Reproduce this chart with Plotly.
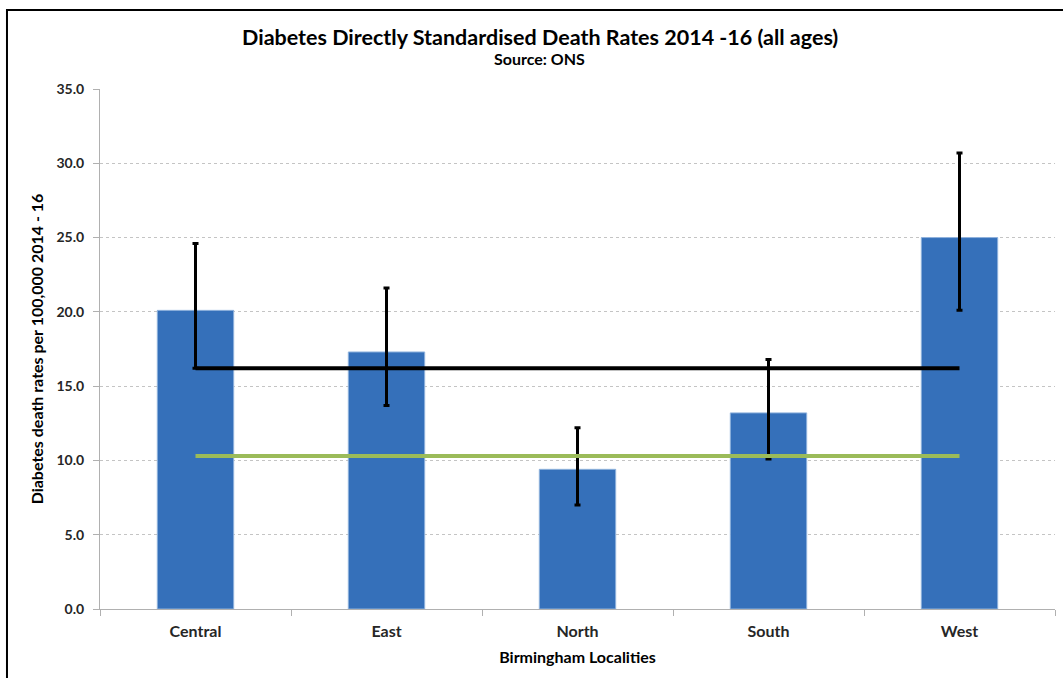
import plotly.graph_objects as go

localities = ["Central", "East", "North", "South", "West"]
death_rate = [20.1, 17.3, 9.4, 13.2, 25.0]
ci_upper = [24.6, 21.6, 12.2, 16.8, 30.7]
ci_lower = [16.2, 13.7, 7.0, 10.1, 20.1]
birmingham_rate = [16.2, 16.2, 16.2, 16.2, 16.2]
england_rate = [10.3, 10.3, 10.3, 10.3, 10.3]

FONT = "Lato"
TEXT = "#262626"
AXIS = "#b0b0b0"

err_plus = [u - v for u, v in zip(ci_upper, death_rate)]
err_minus = [v - l for v, l in zip(death_rate, ci_lower)]

fig = go.Figure()
fig.add_trace(go.Bar(
    x=localities,
    y=death_rate,
    width=0.4,
    marker=dict(color="#3570ba", line=dict(color="#8fb2dd", width=1)),
    error_y=dict(type="data", symmetric=False, array=err_plus, arrayminus=err_minus,
                 color="black", thickness=3, width=3),
    name="Locality",
))
fig.add_trace(go.Scatter(
    x=localities, y=birmingham_rate, mode="lines",
    line=dict(color="black", width=4), name="Birmingham",
))
fig.add_trace(go.Scatter(
    x=localities, y=england_rate, mode="lines",
    line=dict(color="#9bbb59", width=4), name="England",
))

# Outer chart frame (right and bottom edges fall outside the picture)
fig.add_shape(type="rect", xref="paper", yref="paper",
              x0=-0.0974, x1=1.02, y0=-0.16, y1=1.1519,
              line=dict(color="black", width=2), fillcolor="rgba(0,0,0,0)")

# Title and subtitle, centred on the whole chart rather than the plot area
fig.add_annotation(text="<b>Diabetes Directly Standardised Death Rates 2014 -16 (all ages)</b>",
                   xref="paper", yref="paper", x=0.4607, y=1.1, xanchor="center", yanchor="middle",
                   showarrow=False, font=dict(size=21.5, family=FONT, color="black"))
fig.add_annotation(text="<b>Source: ONS</b>",
                   xref="paper", yref="paper", x=0.4607, y=1.058, xanchor="center", yanchor="middle",
                   showarrow=False, font=dict(size=16, family=FONT, color="black"))

fig.update_layout(
    width=1063, height=678,
    margin=dict(l=100, r=8, t=89, b=69),
    plot_bgcolor="white", paper_bgcolor="white",
    showlegend=False,
    font=dict(family=FONT, color=TEXT),
)
fig.update_yaxes(
    range=[0, 35], dtick=5, tickformat=".1f",
    tickprefix="<b>", ticksuffix="</b>",
    showgrid=True, gridcolor="#c4c4c4", griddash="dot", gridwidth=1,
    showline=True, linecolor=AXIS, linewidth=1,
    ticks="outside", ticklen=6, tickcolor=AXIS,
    ticklabelstandoff=6,
    tickfont=dict(size=14, family=FONT, color=TEXT),
    title=dict(text="<b>Diabetes death rates per 100,000 2014 - 16</b>",
               font=dict(size=16, family=FONT, color="black"), standoff=8),
    zeroline=False,
)
fig.update_xaxes(
    tickprefix="<b>", ticksuffix="</b>",
    showline=True, linecolor=AXIS, linewidth=1,
    ticks="outside", tickson="boundaries", ticklen=6, tickcolor=AXIS,
    ticklabelstandoff=8,
    tickfont=dict(size=16, family=FONT, color=TEXT),
    title=dict(text="<b>Birmingham Localities</b>",
               font=dict(size=16, family=FONT, color="black"), standoff=12),
)

fig.write_html("out.html", config={"displayModeBar": False},
               post_script="document.body.style.margin='0';")
